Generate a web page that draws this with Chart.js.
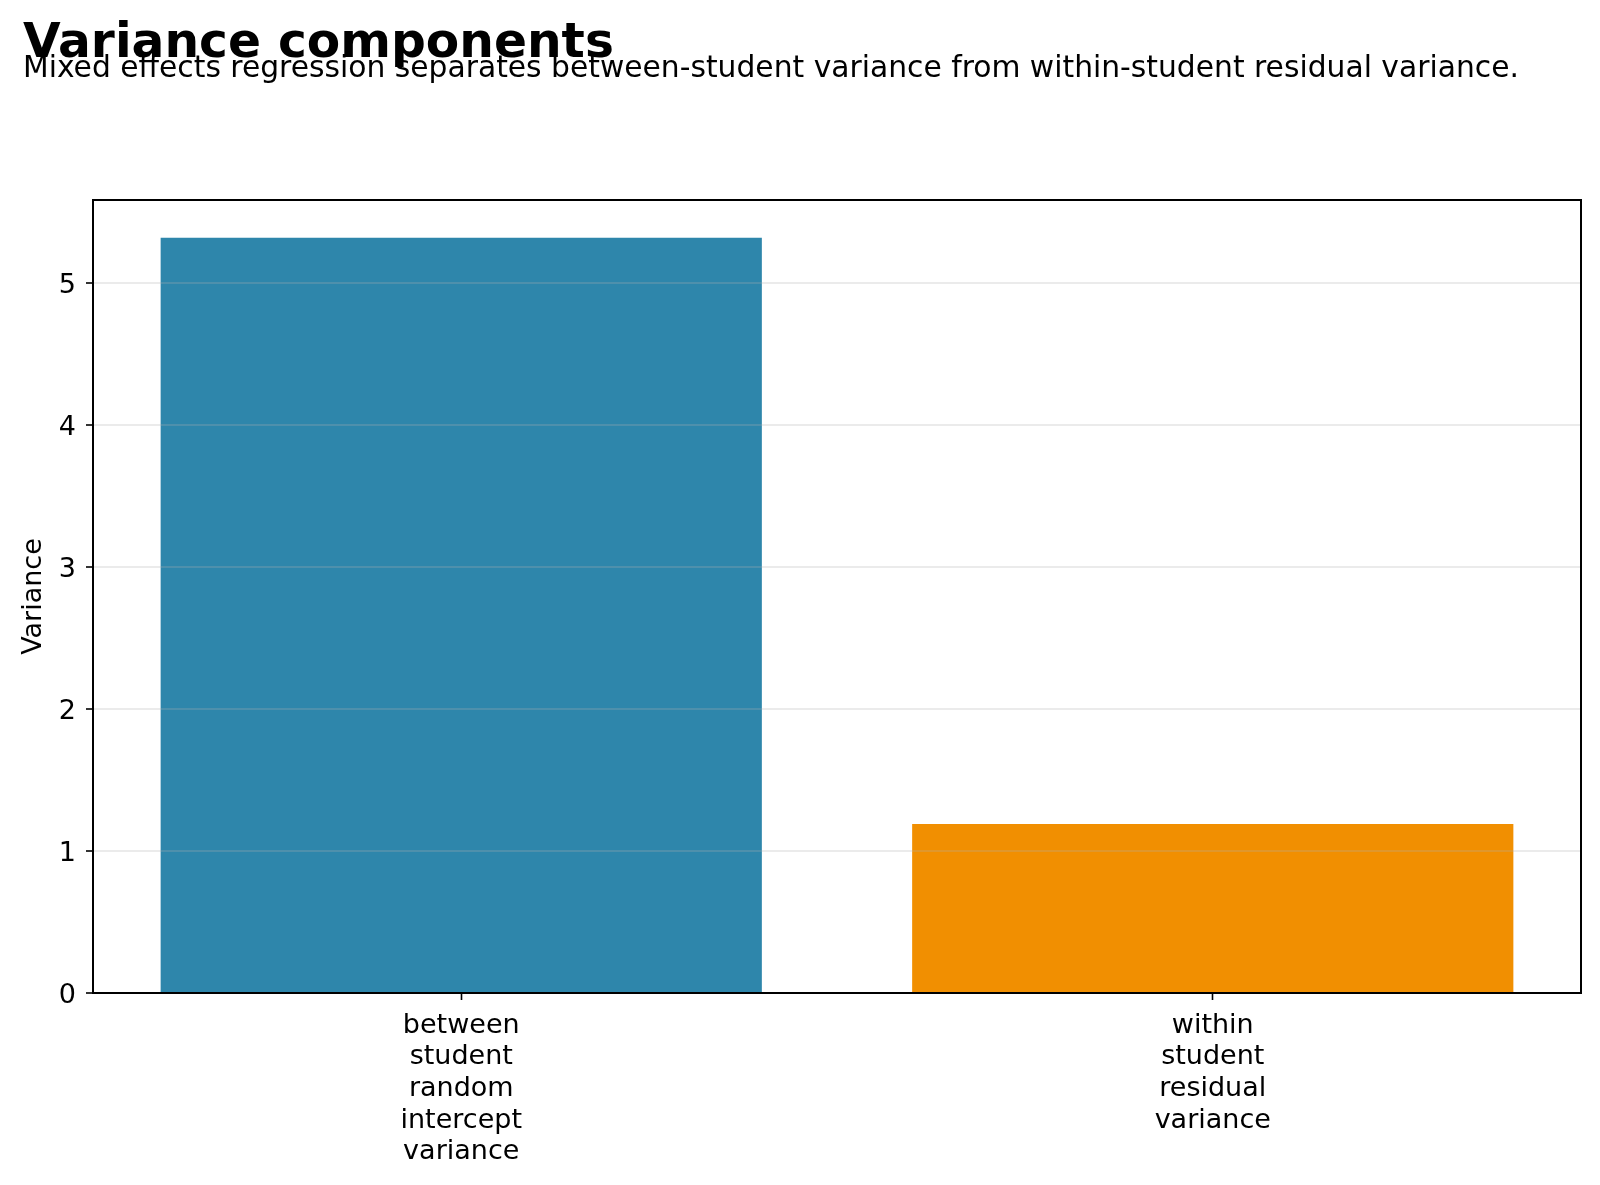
<!DOCTYPE html>
<html>
<head>
<meta charset="utf-8">
<script src="https://cdn.jsdelivr.net/npm/chart.js@4.4.1/dist/chart.umd.min.js"></script>
<style>
  html, body { margin: 0; padding: 0; background: #ffffff; }
  #wrap { width: 1600px; height: 1185px; position: relative; }
</style>
</head>
<body>
<div id="wrap"><canvas id="c" width="1600" height="1185"></canvas></div>
<script>
// ---- data ----
const categoryLines = [
  ["between", "student", "random", "intercept", "variance"],
  ["within", "student", "residual", "variance"]
];
const categoryPositions = [0, 1];
const varianceValues = [5.32, 1.19];
const barColors = ["#2E86AB", "#F18F01"];
const yTicks = [0, 1, 2, 3, 4, 5];
const titleText = "Variance components";
const subtitleText = "Mixed effects regression separates between-student variance from within-student residual variance.";
const yAxisTitle = "Variance";

const FONT = "'DejaVu Sans', sans-serif";

const headerPlugin = {
  id: 'header',
  afterDraw(chart) {
    const ctx = chart.ctx;
    ctx.save();
    ctx.fillStyle = '#000';
    ctx.textAlign = 'left';
    ctx.textBaseline = 'alphabetic';
    ctx.font = "bold 48.7px " + FONT;
    ctx.fillText(titleText, 23, 57);
    ctx.font = "29.75px " + FONT;
    ctx.fillText(subtitleText, 23, 77);
    ctx.restore();
  }
};

const framePlugin = {
  id: 'frame',
  afterDraw(chart) {
    const a = chart.chartArea;
    const ctx = chart.ctx;
    ctx.save();
    ctx.strokeStyle = '#000';
    ctx.lineWidth = 2;
    ctx.strokeRect(a.left, a.top, a.right - a.left, a.bottom - a.top);
    ctx.restore();
  }
};

const dataPoints = categoryPositions.map((x, i) => ({ x: x, y: varianceValues[i] }));

new Chart(document.getElementById('c'), {
  type: 'bar',
  data: {
    datasets: [{
      data: dataPoints,
      backgroundColor: barColors,
      borderWidth: 0,
      barPercentage: 0.8,
      categoryPercentage: 1.0
    }]
  },
  options: {
    responsive: false,
    animation: false,
    devicePixelRatio: 1,
    layout: { padding: { top: 200, right: 19, left: 0, bottom: 0 } },
    plugins: { legend: { display: false }, tooltip: { enabled: false } },
    scales: {
      x: {
        type: 'linear',
        min: -0.49,
        max: 1.49,
        offset: false,
        afterBuildTicks(scale) { scale.ticks = categoryPositions.map(v => ({ value: v })); },
        afterFit(scale) { scale.height = 192; },
        grid: {
          offset: false,
          drawOnChartArea: false,
          drawTicks: true,
          tickLength: 7,
          tickColor: '#000',
          tickWidth: 1.6
        },
        border: { display: true, color: '#000', width: 2 },
        ticks: {
          color: '#000',
          font: { family: FONT, size: 27, lineHeight: 1.17 },
          padding: 10,
          maxRotation: 0,
          autoSkip: false,
          callback(value) {
            const i = categoryPositions.indexOf(value);
            return i >= 0 ? categoryLines[i] : '';
          }
        }
      },
      y: {
        type: 'linear',
        min: 0,
        max: 5.586,
        afterBuildTicks(scale) { scale.ticks = yTicks.map(v => ({ value: v })); },
        afterFit(scale) { scale.width = 93; },
        grid: {
          z: 1,
          color: 'rgba(176,176,176,0.25)',
          lineWidth: 2,
          drawTicks: true,
          tickLength: 7,
          tickColor: '#000',
          tickWidth: 1.6
        },
        border: { display: true, color: '#000', width: 2, z: 2 },
        title: {
          display: true,
          text: yAxisTitle,
          color: '#000',
          font: { family: FONT, size: 27 },
          padding: { top: 18, bottom: 0 }
        },
        ticks: {
          color: '#000',
          font: { family: FONT, size: 27 },
          padding: 10,
          labelOffset: 3
        }
      }
    }
  },
  plugins: [headerPlugin, framePlugin]
});
</script>
</body>
</html>
